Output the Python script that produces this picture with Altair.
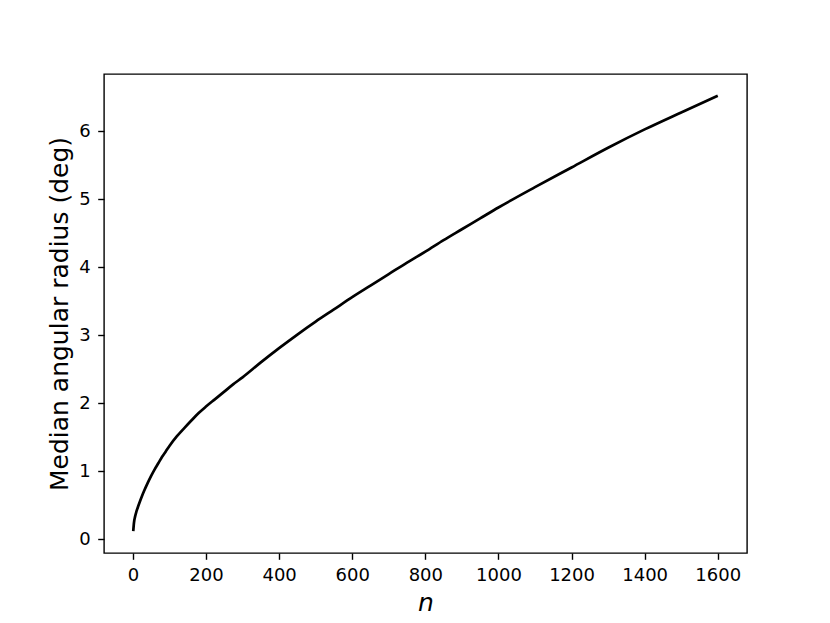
import altair as alt
import pandas as pd

# Values
n_values = [1, 3, 6, 10, 15, 20, 25, 30, 40, 50, 60, 70, 80, 90, 100, 120, 140, 160, 180,
            200, 225, 250, 275, 300, 350, 400, 450, 500, 550, 600, 650, 700, 750, 800,
            850, 900, 950, 1000, 1100, 1200, 1300, 1400, 1500, 1600]
radius_values = [0.115, 0.24, 0.33, 0.41, 0.49, 0.565, 0.635, 0.70, 0.82, 0.93, 1.03, 1.12,
                 1.21, 1.29, 1.37, 1.51, 1.63, 1.745, 1.855, 1.95, 2.06, 2.17, 2.28, 2.38,
                 2.60, 2.81, 3.01, 3.20, 3.38, 3.56, 3.73, 3.90, 4.07, 4.23, 4.40, 4.56,
                 4.72, 4.88, 5.18, 5.47, 5.76, 6.03, 6.28, 6.525]
x_ticks = [0, 200, 400, 600, 800, 1000, 1200, 1400, 1600]
y_ticks = [0, 1, 2, 3, 4, 5, 6]

df = pd.DataFrame({"n": n_values, "r": radius_values})

FONT = "DejaVu Sans"

chart = (
    alt.Chart(df)
    .mark_line(color="black", strokeWidth=2.7, interpolate="monotone")
    .encode(
        x=alt.X(
            "n:Q",
            scale=alt.Scale(domain=[-79, 1680], nice=False, zero=False),
            axis=alt.Axis(
                values=x_ticks, format="d", title="n",
                titleFont=FONT, titleFontSize=25, titleFontStyle="italic",
                titleFontWeight="normal", titleColor="black",
                titleX=321.5, titleY=57, titleAlign="center", titleBaseline="alphabetic",
                labelFont=FONT, labelFontSize=18, labelColor="black", labelPadding=7.5,
                tickSize=6.3, tickWidth=1.4, tickColor="black",
                domain=False, grid=False, labelFlush=False, labelOverlap=False,
            ),
        ),
        y=alt.Y(
            "r:Q",
            scale=alt.Scale(domain=[-0.2055, 6.8455], nice=False, zero=False),
            axis=alt.Axis(
                values=y_ticks, format="d", title="Median angular radius (deg)",
                titleFont=FONT, titleFontSize=25, titleFontWeight="normal",
                titleColor="black", titleAngle=270,
                titleX=-37, titleY=239.5, titleAlign="center", titleBaseline="alphabetic",
                labelFont=FONT, labelFontSize=18, labelColor="black", labelPadding=7.5,
                tickSize=6.3, tickWidth=1.4, tickColor="black",
                domain=False, grid=False, labelFlush=False, labelOverlap=False,
            ),
        ),
    )
    .properties(
        width=643, height=479,
        autosize=alt.AutoSizeParams(type="none"),
        padding={"left": 96, "top": 66, "right": 70, "bottom": 64},
        background="white",
    )
    .configure_view(stroke="black", strokeWidth=1.4)
)

chart.save("out.html", embed_options={"renderer": "svg", "actions": False})
